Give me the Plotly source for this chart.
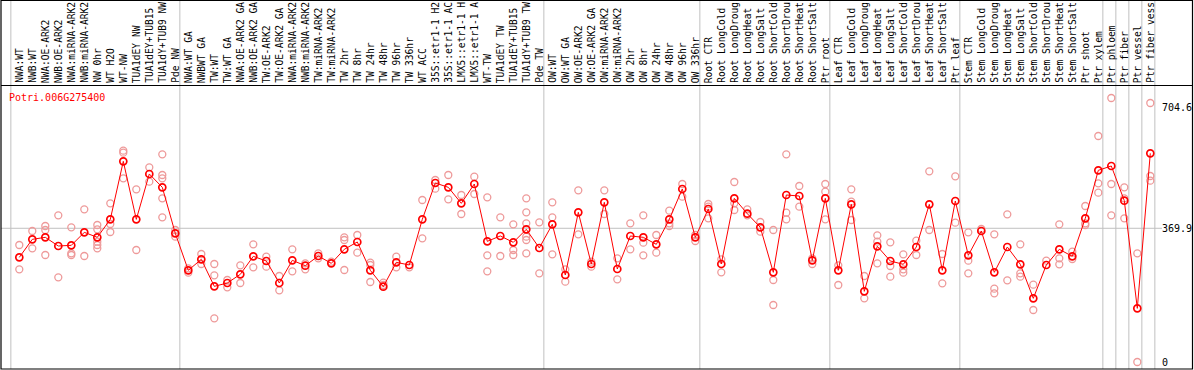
import plotly.graph_objects as go

gene_id = "Potri.006G275400"

categories = [
    "NWA:WT", "NWB:WT", "NWA:OE-ARK2", "NWB:OE-ARK2", "NWA:miRNA-ARK2", "NWB:miRNA-ARK2",
    "NW 0hr", "WT H2O", "WT-NW", "TUA1dEY NW", "TUA1dEY+TUB15", "TUA1dY+TUB9 NW", "Pde NW",
    "NWA:WT GA", "NWBWT GA", "TW:WT", "TW:WT GA", "NWA:OE-ARK2 GA", "NWB:OE-ARK2 GA",
    "TW:OE-ARK2", "TW:OE-ARK2 GA", "NWA:miRNA-ARK2", "NWB:miRNA-ARK2", "TW:miRNA-ARK2",
    "TW:miRNA-ARK2", "TW 2hr", "TW 8hr", "TW 24hr", "TW 48hr", "TW 96hr", "TW 336hr",
    "WT ACC", "35S::etr1-1 H2", "35S::etr1-1 AC", "LMX5::etr1-1 H", "LMX5::etr1-1 A",
    "WT-TW", "TUA1dEY TW", "TUA1dEY+TUB15", "TUA1dY+TUB9 TW", "Pde TW",
    "OW:WT", "OW:WT GA", "OW:OE-ARK2", "OW:OE-ARK2 GA", "OW:miRNA-ARK2", "OW:miRNA-ARK2",
    "OW 2hr", "OW 8hr", "OW 24hr", "OW 48hr", "OW 96hr", "OW 336hr",
    "Root CTR", "Root LongCold", "Root LongDroug", "Root LongHeat", "Root LongSalt",
    "Root ShortCold", "Root ShortDrou", "Root ShortHeat", "Root ShortSalt", "Ptr root",
    "Leaf CTR", "Leaf LongCold", "Leaf LongDroug", "Leaf LongHeat", "Leaf LongSalt",
    "Leaf ShortCold", "Leaf ShortDrou", "Leaf ShortHeat", "Leaf ShortSalt", "Ptr leaf",
    "Stem CTR", "Stem LongCold", "Stem LongDroug", "Stem LongHeat", "Stem LongSalt",
    "Stem ShortCold", "Stem ShortDrou", "Stem ShortHeat", "Stem ShortSalt", "Ptr shoot",
    "Ptr xylem", "Ptr phloem", "Ptr fiber", "Ptr vessel", "Ptr fiber vess",
]

group_starts = [0, 13, 41, 53, 63, 73, 84, 85, 86, 87, 88]

means = [
    289.5, 339.3, 344.9, 320.9, 322.7, 358.7, 344.9, 394.6, 555.1, 394.6,
    520.1, 483.2, 355.9, 253.6, 284.0, 209.3, 218.5, 242.5, 292.3, 279.4,
    218.5, 281.2, 266.5, 293.2, 272.9, 311.7, 332.0, 253.6, 208.4, 275.7,
    268.3, 394.6, 495.2, 483.2, 438.9, 492.4, 333.8, 348.6, 331.0, 367.0,
    315.4, 380.8, 240.7, 414.0, 271.1, 441.7, 257.2, 348.6, 344.9, 325.5,
    394.6, 478.6, 344.9, 423.2, 271.1, 452.7, 410.3, 372.5, 248.0, 462.0,
    459.2, 281.2, 452.7, 253.6, 436.1, 195.5, 320.0, 279.4, 270.2, 318.1,
    436.1, 253.6, 445.4, 295.1, 362.4, 248.0, 318.1, 270.2, 176.1, 268.3,
    311.7, 292.3, 397.4, 530.2, 542.2, 446.3, 148.4, 577.2,
]

replicates = [
    [323.7, 256.3], [362.4, 314.4], [376.2, 365.1, 296.0], [405.7, 234.2],
    [372.5, 300.6, 296.0], [422.3, 293.2], [379.0, 367.0, 332.9, 323.7, 314.4],
    [438.9, 381.7, 359.6], [584.6, 579.1, 508.1], [477.6, 309.8],          # 0-9
    [538.5, 498.8], [574.5, 517.3, 508.1, 452.7, 400.2], [365.1, 346.7],
    [259.1, 247.1], [298.7, 271.1], [271.1, 239.7, 120.8], [226.8, 206.5],
    [267.4, 218.5], [325.5, 261.9], [291.4, 263.7],                        # 10-19
    [237.9, 198.2], [311.7, 250.8], [272.9, 256.3], [300.6, 286.8], [277.5],
    [344.9, 337.5, 254.5], [351.3, 302.4], [274.8, 268.3, 221.3],
    [219.5, 213.0], [291.4, 261.9],                                        # 20-29
    [261.9], [448.1, 342.1], [503.5, 479.5], [517.3, 450.0], [462.0, 409.4],
    [512.7, 464.7], [455.5, 295.1, 250.8], [400.2, 293.2],
    [380.8, 309.8, 296.0], [452.7, 414.0, 383.6, 346.7, 337.5, 300.6],     # 30-39
    [386.4, 245.3], [441.7, 400.2, 297.8], [256.3, 222.2], [474.9, 353.2],
    [277.5, 263.7], [474.9, 409.4], [286.8, 228.7], [383.6, 311.7],
    [405.7, 330.1, 295.1], [351.3, 302.4],                                 # 40-49
    [418.6, 383.6, 376.2], [492.4, 457.4], [351.3, 334.7],
    [437.1, 429.7, 397.4], [284.0, 248.0], [497.9, 438.9, 420.5],
    [422.3, 405.7], [387.3, 360.5], [365.1, 226.8, 157.7],
    [574.5, 413.1, 394.6],                                                 # 50-59
    [486.9, 429.7], [286.8, 271.1], [492.4, 471.2, 394.6], [267.4, 213.0],
    [477.6, 443.5, 392.8], [237.9, 176.1], [350.4, 332.9, 272.9],
    [331.0, 265.6, 236.1], [297.8, 256.3, 247.1], [335.6, 296.0],          # 60-69
    [527.4, 365.1], [298.7, 217.6], [513.6, 385.4], [358.7, 280.3, 245.3],
    [367.9], [353.2, 202.9, 190.0], [408.5, 225.9], [325.5, 245.3, 236.1],
    [213.9, 143.8], [280.3],                                               # 70-79
    [380.8, 286.8, 270.2], [305.2, 284.9], [431.5, 383.6, 379.0],
    [625.2, 494.2, 468.4], [730.3, 492.4, 405.7], [483.2, 452.7, 397.4],
    [300.6, 0.0], [716.5, 514.5, 501.6],                                   # 80-87
]

ytick_vals = [0, 369.9, 704.6]
ytick_text = ["0", "369.9", "704.6"]
grid_value = 369.9

# ---------------- layout geometry (pixels) ----------------
W, H = 1194, 370
x0_px, dx_px = 19.3, 13.0          # pixel centre of first category, step
y0_px, dy_px = 362.0, 0.3615       # pixel row of value 0, pixels per unit


def xpaper(px):
    return px / W


def ypaper(py):
    return 1 - py / H


xr = [(0 - x0_px) / dx_px, (W - x0_px) / dx_px]
yr = [(y0_px - H) / dy_px, y0_px / dy_px]

n = len(categories)
xs = list(range(n))

rep_x, rep_y = [], []
for i, vals in enumerate(replicates):
    for v in vals:
        rep_x.append(i)
        rep_y.append(v)

fig = go.Figure()
fig.add_trace(go.Scatter(
    x=rep_x, y=rep_y, mode="markers",
    marker=dict(symbol="circle-open", size=7, color="#EE9A9A", line=dict(width=1.3)),
    hoverinfo="skip", showlegend=False,
))
fig.add_trace(go.Scatter(
    x=xs, y=means, mode="lines+markers",
    line=dict(color="#FF0000", width=1),
    marker=dict(symbol="circle-open", size=7, color="#FF0000", line=dict(width=1.7)),
    text=categories, showlegend=False,
))

shapes = []
# vertical group separators
for k in group_starts:
    shapes.append(dict(type="line", xref="x", yref="paper",
                       x0=k - 0.65, x1=k - 0.65, y0=ypaper(369), y1=1,
                       line=dict(color="#C0C0C0", width=1), layer="below"))
# horizontal grid line at mean value
shapes.append(dict(type="line", xref="paper", yref="y",
                   x0=xpaper(1), x1=xpaper(1162), y0=grid_value, y1=grid_value,
                   line=dict(color="#C0C0C0", width=1), layer="below"))
# outer frame
shapes.append(dict(type="rect", xref="paper", yref="paper",
                   x0=xpaper(1), x1=xpaper(1192.5), y0=ypaper(369), y1=ypaper(0.5),
                   line=dict(color="black", width=1.2), layer="above"))
# header separator
shapes.append(dict(type="line", xref="paper", yref="paper",
                   x0=xpaper(1), x1=xpaper(1192.5), y0=ypaper(85.5), y1=ypaper(85.5),
                   line=dict(color="black", width=1.2), layer="above"))

annotations = []
mono = "DejaVu Sans Mono"
for i, c in enumerate(categories):
    annotations.append(dict(
        x=i, xref="x", y=ypaper(84), yref="paper",
        text=c, textangle=-90, showarrow=False,
        xanchor="center", yanchor="bottom",
        font=dict(family=mono, size=9.6, color="black"),
        borderpad=0,
    ))
for v, t in zip(ytick_vals, ytick_text):
    annotations.append(dict(
        x=xpaper(1161), xref="paper", y=v, yref="y",
        text=t, showarrow=False, xanchor="left", yanchor="middle",
        font=dict(family=mono, size=10, color="black"), borderpad=0,
    ))
annotations.append(dict(
    x=xpaper(8), xref="paper", y=ypaper(97), yref="paper",
    text=gene_id, showarrow=False, xanchor="left", yanchor="middle",
    font=dict(family=mono, size=10, color="#FF0000"), borderpad=0,
))

fig.update_layout(
    width=W, height=H,
    margin=dict(l=0, r=0, t=0, b=0),
    paper_bgcolor="white", plot_bgcolor="white",
    xaxis=dict(range=xr, visible=False, fixedrange=True),
    yaxis=dict(range=yr, visible=False, fixedrange=True),
    shapes=shapes, annotations=annotations,
    showlegend=False,
)

fig.write_html(
    "out.html",
    config={"displayModeBar": False},
    post_script="document.body.style.margin='0px';document.body.style.overflow='hidden';",
)
